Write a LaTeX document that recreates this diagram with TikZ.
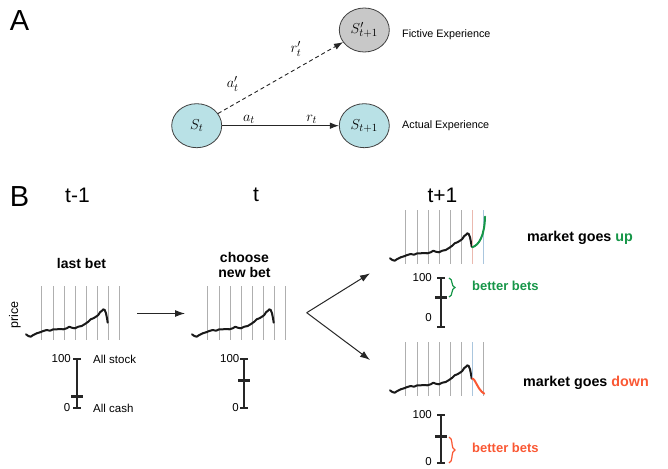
\documentclass[tikz,border=0pt]{standalone}
\usepackage{fontspec}
\setmainfont{Liberation Sans}
\usetikzlibrary{arrows.meta,shapes.geometric,decorations.pathreplacing}
\definecolor{stateblue}{RGB}{185,225,230}
\definecolor{stategrey}{RGB}{200,200,200}
\definecolor{upgreen}{RGB}{22,150,72}
\definecolor{downred}{RGB}{250,88,52}
\definecolor{gridgrey}{RGB}{175,175,175}
\definecolor{gridpink}{RGB}{235,185,175}
\definecolor{gridblue}{RGB}{170,198,222}
\newcommand\fsz[1]{\fontsize{#1}{#1}\selectfont}
\newcommand\pricechart{%
  \foreach \i in {0,...,7}{\draw[gridline] ({41.7+11.1*\i},286) -- ({41.7+11.1*\i},340);}
  \draw[pcurve] (26,334.3) -- (28.3,336) -- (30.7,336.7) -- (33.3,335) -- (36.7,333.3) -- (40,332.3)
    -- (43.3,331) -- (46.7,330) -- (50,330.7) -- (53.3,329.3) -- (56.7,329.3) -- (60,329)
    -- (63.3,329.3) -- (66.7,328.3) -- (69.3,326.7) -- (71.7,327.7) -- (75,328.3) -- (78.3,326.7)
    -- (81.7,326) -- (85,324) -- (88.3,321.7) -- (90.7,319.3) -- (93.3,318.3) -- (96,316.7)
    -- (98.3,315) -- (100,312.3) -- (102,310.7) -- (103.3,309.3) -- (104.7,310) -- (106,313.3)
    -- (107,318.3) -- (107.7,322.7);}
\newcommand\scalebar[4]{%
  \draw[barline] ({#1-4},#2) -- ({#1+4},#2) (#1,#2) -- (#1,#3) ({#1-4},#3) -- ({#1+4},#3);
  \draw[barmark] ({#1-6},#4) -- ({#1+6},#4);}
\begin{document}
\begin{tikzpicture}[x=1pt,y=-1pt,
  statenode/.style={ellipse,draw=black!75,line width=0.8pt,minimum width=50pt,minimum height=44pt,inner sep=0pt,font=\fsz{15.5}},
  edgelbl/.style={font=\fsz{15},inner sep=0pt},
  sidelbl/.style={font=\fsz{10.8},anchor=base west,inner sep=0pt},
  arr/.style={-{Latex[length=9pt,width=6.5pt]},line width=0.9pt,draw=black!85},
  bigarr/.style={-{Latex[length=10pt,width=7pt]},line width=1pt,draw=black!85},
  gridline/.style={draw=gridgrey,line width=0.6pt},
  pcurve/.style={draw=black!90,line width=2pt,line join=round,line cap=round},
  barline/.style={draw=black!85,line width=1.1pt},
  barmark/.style={draw=black!85,line width=3pt},
  ticklbl/.style={font=\fsz{11.5},anchor=east,inner sep=0pt},
  panellbl/.style={font=\fsz{29},inner sep=0pt},
  timelbl/.style={font=\fsz{21},inner sep=0pt},
  boldlbl/.style={font=\bfseries\fsz{14},inner sep=0pt},
  marketlbl/.style={font=\bfseries\fsz{14.3},anchor=base west,inner sep=0pt},
  betterlbl/.style={font=\bfseries\fsz{13},anchor=base west,inner sep=0pt},
  bracelbl/.style={decorate,decoration={brace,amplitude=6pt},line width=1.2pt}]
\useasboundingbox (0,0) rectangle (668,468);

% ---------- Panel A ----------
\node[panellbl] (lblA) at (19.5,20.5) {A};
\node[statenode,fill=stateblue] (St) at (196.7,125.7) {$S_t$};
\node[statenode,fill=stateblue] (Stn) at (364.3,125.7) {$S_{t+1}$};
\node[statenode,fill=stategrey] (Sf) at (364.3,30) {$S'_{t+1}$};
\draw[arr] (St) -- (Stn);
\draw[arr,dash pattern=on 4pt off 3pt] (St) -- (Sf);
\node[edgelbl] (at) at (249,119) {$a_t$};
\node[edgelbl] (rt) at (311.7,119) {$r_t$};
\node[edgelbl] (atf) at (232.7,84) {$a'_t$};
\node[edgelbl] (rtf) at (296,49) {$r'_t$};
\node[sidelbl] (fict) at (402,37.5) {Fictive Experience};
\node[sidelbl] (act) at (402,128.3) {Actual Experience};

% ---------- Panel B ----------
\node[panellbl] (lblB) at (19.5,196.5) {B};
\node[timelbl] (tm1) at (77.5,195) {t-1};
\node[timelbl] (t0) at (256,195) {t};
\node[timelbl] (tp1) at (442.5,195) {t+1};

\node[boldlbl] (lastbet) at (81.5,263.5) {last bet};
\node[boldlbl,align=center,font=\bfseries\fontsize{14}{15}\selectfont] (choose) at (244.5,265) {choose\\new bet};
\node[font=\fsz{12.5},rotate=90,inner sep=0pt] (price) at (15,315) {price};

% charts
\begin{scope}\pricechart\end{scope}
\begin{scope}[shift={(166,0)}]\pricechart\end{scope}
\begin{scope}[shift={(364,-76)}]\pricechart
  \draw[draw=gridpink,line width=0.6pt] (108.3,286) -- (108.3,340);
  \draw[draw=gridblue,line width=0.6pt] (119.4,286) -- (119.4,340);
\end{scope}
\begin{scope}[shift={(364,56)}]\pricechart
  \draw[draw=gridblue,line width=0.6pt] (108.3,286) -- (108.3,340);
\end{scope}
\draw[pcurve,draw=upgreen] (472.3,247.3) .. controls (479,245) and (484.5,236) .. (485,216.7);
\draw[pcurve,draw=downred] (472.3,378.3) -- (474.3,380) -- (476.7,384.3) -- (479,388.3) -- (481.7,391.7) -- (484.3,393.7);

% arrows
\coordinate (c1r) at (137,313.5);
\coordinate (c2l) at (185,313.5);
\draw[bigarr] (c1r) -- (c2l);
\coordinate (fork) at (306.7,312.7);
\coordinate (upend) at (370,273.3);
\coordinate (dnend) at (370,360);
\draw[bigarr] (fork) -- (upend);
\draw[bigarr] (fork) -- (dnend);

% scale bars
\scalebar{77}{359}{408}{396.7}
\node[ticklbl] (h1) at (71,359) {100};
\node[ticklbl] (z1) at (70.5,408) {0};
\node[font=\fsz{11.5},anchor=west,inner sep=0pt] (allstock) at (93,359) {All stock};
\node[font=\fsz{11.5},anchor=west,inner sep=0pt] (allcash) at (93,408) {All cash};

\scalebar{244}{359}{408}{380.7}
\node[ticklbl] (h2) at (239.5,359) {100};
\node[ticklbl] (z2) at (239,408) {0};

\scalebar{441}{278}{327}{297}
\node[ticklbl] (h3) at (432,278) {100};
\node[ticklbl] (z3) at (432,318) {0};
\draw[bracelbl,draw=upgreen] (449,278) -- (449,297);
\node[betterlbl,text=upgreen] (bb3) at (472,290) {better bets};

\scalebar{441}{415}{463}{436}
\node[ticklbl] (h4) at (432,415) {100};
\node[ticklbl] (z4) at (432,462) {0};
\draw[bracelbl,draw=downred] (449,437) -- (449,463);
\node[betterlbl,text=downred] (bb4) at (472,452.5) {better bets};

\node[marketlbl] (mup) at (527,241) {market goes \textcolor{upgreen}{up}};
\node[marketlbl] (mdown) at (523,386.5) {market goes \textcolor{downred}{down}};
\end{tikzpicture}
\end{document}
